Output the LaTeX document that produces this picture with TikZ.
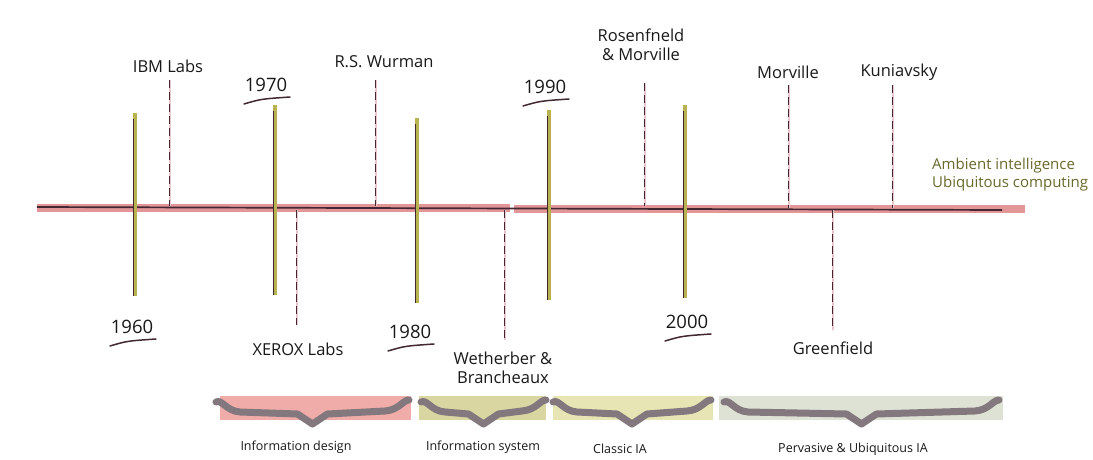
\documentclass[tikz,border=0pt]{standalone}
\usepackage{fontspec}
\setmainfont{Open Sans}
\begin{document}
\begin{tikzpicture}[x=1pt,y=-1pt,
  lbl/.style={font=\fontsize{16.5}{19}\selectfont, text=black!90, inner sep=0pt, align=center},
  yr/.style={font=\fontsize{18.5}{21}\selectfont, text=black!90, inner sep=0pt},
  era/.style={font=\fontsize{12.5}{14}\selectfont, text=black!90, inner sep=0pt},
  amb/.style={font=\fontsize{15}{18}\selectfont, text=ambc, inner sep=0pt, align=left},
  band/.style={line width=8pt, draw=bandc},
  axis/.style={line width=1.7pt, draw=darkc},
  yrline/.style={line width=3.5pt, draw=olivec},
  yrthin/.style={line width=0.8pt, draw=darkc},
  evbase/.style={line width=2.5pt, draw=evc},
  evdash/.style={line width=1.6pt, draw=darkc, dash pattern=on 8pt off 4pt},
  uline/.style={line width=1.5pt, draw=darkc, line cap=round},
  brace/.style={line width=7pt, draw=bracec, line cap=round, line join=round},
]
\definecolor{bandc}{RGB}{226,150,152}
\definecolor{darkc}{RGB}{65,40,50}
\definecolor{olivec}{RGB}{185,178,80}
\definecolor{evc}{RGB}{232,200,205}
\definecolor{ambc}{RGB}{105,105,45}
\definecolor{bracec}{RGB}{130,120,125}
\definecolor{barA}{RGB}{240,172,168}
\definecolor{barB}{RGB}{218,214,162}
\definecolor{barC}{RGB}{232,229,180}
\definecolor{barD}{RGB}{222,226,212}
\useasboundingbox (0,0) rectangle (1093,460);
\fill[white] (0,0) rectangle (1093,460);

% main timeline
\coordinate (L1) at (37,208); \coordinate (L2) at (510,208);
\coordinate (R1) at (514,209); \coordinate (R2) at (1025,209);
\coordinate (A1) at (37,207); \coordinate (A2) at (1002,210);
\draw[band] (L1) -- (L2);
\draw[band] (R1) -- (R2);
\draw[axis] (A1) -- (A2);

% year lines
\foreach \n/\x/\t/\b in {y60/135/113/296, y70/275/105/295, y80/417/118/303, y90/549/110/300, y00/685/105/298}{
  \coordinate (\n t) at (\x,\t); \coordinate (\n b) at (\x,\b);
  \draw[yrline] (\n t) -- (\n b);
  \draw[yrthin] ([xshift=-1.2pt,yshift=-6pt]\n t) -- ([xshift=-1.2pt]\n b);
}

% event dashed lines
\foreach \n/\x/\t/\b in {ibm/170/80/206, xer/297/210/325, wur/376/80/206, wet/505/210/340, ros/645/83/206, mor/789/85/208, kun/893/85/208, gre/833/210/330}{
  \coordinate (\n t) at (\x,\t); \coordinate (\n b) at (\x,\b);
  \draw[evbase] (\n t) -- (\n b);
  \draw[evdash] ([xshift=-0.6pt]\n t) -- ([xshift=-0.6pt]\n b);
}

% labels above
\node[lbl] (ibm) at (168,66) {IBM Labs};
\node[lbl] (wur) at (384,62) {R.S. Wurman};
\node[lbl] (ros) at (641,45) {Rosenfneld\\\& Morville};
\node[lbl] (mor) at (788,72) {Morville};
\node[lbl] (kun) at (899,72) {Kuniavsky};
\node[amb, anchor=west] (amb) at (932,175) {Ambient intelligence\\Ubiquitous computing};

% labels below
\node[lbl] (xer) at (298,349) {XEROX Labs};
\node[lbl] (wet) at (503,368) {Wetherber \&\\Brancheaux};
\node[lbl] (gre) at (833,348) {Greenfield};

% years
\node[yr] (n60) at (132,327) {1960};
\node[yr] (n70) at (266,85) {1970};
\node[yr] (n80) at (410,332) {1980};
\node[yr] (n90) at (545,87) {1990};
\node[yr] (n00) at (687,322) {2000};
\foreach \n in {n60,n70,n80,n90,n00}{
  \draw[uline] ([xshift=-22pt,yshift=-19pt]\n.center) .. controls ([xshift=-5pt,yshift=-14pt]\n.center) .. ([xshift=24pt,yshift=-12pt]\n.center);
}

% era bars
\fill[barA] (220,396) rectangle (411,420);
\fill[barB] (419,396) rectangle (546,420);
\fill[barC] (553,396) rectangle (713,420);
\fill[barD] (719,396) rectangle (1003,420);

% braces
\foreach \a/\b in {216/409, 421/546, 553/711, 724/999}{
  \pgfmathsetmacro{\m}{(\a+\b)/2}
  \draw[brace] (\a,402) .. controls (\a+6,399) and (\a+10,411) .. (\a+24,412)
     -- (\m-15,414) -- (\m,424) -- (\m+15,414) -- (\b-24,411)
     .. controls (\b-10,410) and (\b-6,400) .. (\b,400);
}

% era labels
\node[era] (e1) at (296,447) {Information design};
\node[era] (e2) at (483,447) {Information system};
\node[era] (e3) at (620,449) {Classic IA};
\node[era] (e4) at (853,449) {Pervasive \& Ubiquitous IA};
\end{tikzpicture}
\end{document}
